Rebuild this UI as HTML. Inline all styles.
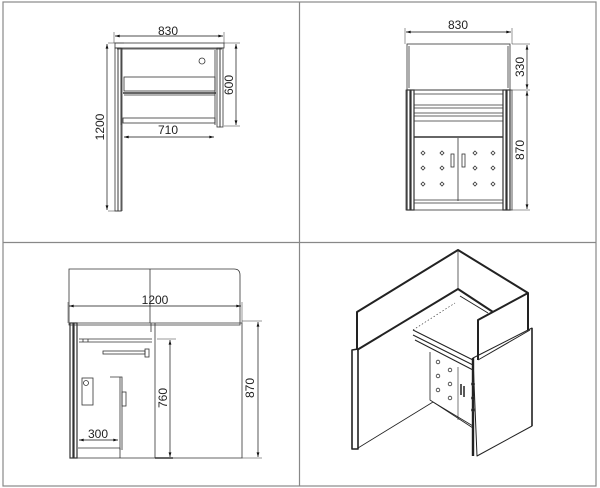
<!DOCTYPE html>
<html><head><style>html,body{margin:0;padding:0;background:#fff}svg{display:block}text{font-family:"Liberation Sans",sans-serif;fill:#222}</style></head>
<body>
<svg width="600" height="488" viewBox="0 0 600 488" xmlns="http://www.w3.org/2000/svg">
<defs>
<marker id="a" viewBox="0 0 10 6" refX="10" refY="3" markerWidth="7" markerHeight="4" orient="auto-start-reverse"><path d="M0,0L10,3L0,6z" fill="#111"/></marker>
</defs>
<g fill="none" stroke="#888" stroke-width="1.2">
<rect x="3" y="2" width="593" height="484"/>
<line x1="299.5" y1="2" x2="299.5" y2="486"/>
<line x1="3" y1="242.5" x2="596" y2="242.5"/>
</g>
<!-- Q1 -->
<g fill="none" stroke="#333" stroke-width="0.8">
<rect x="115" y="43" width="109" height="5"/>
<line x1="117" y1="49" x2="222" y2="49"/>
<rect x="115" y="48" width="3" height="163"/><rect x="118" y="48" width="3" height="163"/>
<line x1="122" y1="48" x2="122" y2="211"/>
<rect x="217" y="48" width="3" height="79"/><rect x="220" y="48" width="3" height="79"/>
<line x1="215" y1="50" x2="215" y2="125"/>
<line x1="121" y1="50" x2="121" y2="125"/>
<rect x="124" y="77" width="91" height="14"/>
<line x1="123" y1="93" x2="216" y2="93" stroke-width="1.6"/>
<line x1="124" y1="95" x2="215" y2="95"/>
<rect x="123" y="118" width="92" height="5"/>
<circle cx="202" cy="61" r="3"/>
<line x1="108" y1="43" x2="124" y2="43" stroke-width="0.5"/>
<line x1="108" y1="211" x2="122" y2="211" stroke-width="0.5"/>
<line x1="224" y1="43" x2="240" y2="43" stroke-width="0.5"/>
<line x1="224" y1="126" x2="240" y2="126" stroke-width="0.5"/>
<line x1="114" y1="32" x2="114" y2="43" stroke-width="0.5"/>
<line x1="224" y1="32" x2="224" y2="43" stroke-width="0.5"/>
</g>
<g stroke="#111" stroke-width="0.7" marker-start="url(#a)" marker-end="url(#a)">
<line x1="115" y1="36" x2="223" y2="36"/>
<line x1="107" y1="44" x2="107" y2="210"/>
<line x1="236" y1="44" x2="236" y2="125"/>
<line x1="124" y1="137" x2="214" y2="137"/>
</g>
<text x="168" y="35" font-size="12" text-anchor="middle">830</text>
<text x="168" y="134" font-size="12" text-anchor="middle">710</text>
<text transform="translate(104,127) rotate(-90)" font-size="12" text-anchor="middle">1200</text>
<text transform="translate(233,85) rotate(-90)" font-size="12" text-anchor="middle">600</text>
<!-- Q2 -->
<g fill="none" stroke="#333" stroke-width="0.8">
<rect x="407" y="44" width="103" height="46"/>
<line x1="409" y1="46" x2="409" y2="88"/><line x1="508" y1="46" x2="508" y2="88"/>
<rect x="406" y="90" width="106" height="120"/>
<rect x="407" y="90" width="3" height="120" stroke-width="1.2"/><rect x="411" y="90" width="3" height="120" stroke-width="1.2"/>
<rect x="503" y="90" width="3" height="120" stroke-width="1.2"/><rect x="507" y="90" width="3" height="120" stroke-width="1.2"/>
<line x1="414" y1="94" x2="503" y2="94"/>
<line x1="414" y1="105" x2="503" y2="105"/><line x1="414" y1="108" x2="503" y2="108"/>
<line x1="414" y1="113" x2="503" y2="113"/><line x1="414" y1="116" x2="503" y2="116"/>
<line x1="414" y1="121" x2="503" y2="121"/>
<line x1="414" y1="137" x2="503" y2="137" stroke-width="1.4"/>
<line x1="458" y1="138" x2="458" y2="201"/>
<line x1="414" y1="200" x2="503" y2="200"/><line x1="414" y1="203" x2="503" y2="203"/>
<rect x="451" y="154" width="3" height="13"/><rect x="462" y="154" width="3" height="13"/>
<line x1="512" y1="44" x2="530" y2="44" stroke-width="0.5"/>
<line x1="512" y1="90" x2="530" y2="90" stroke-width="0.5"/>
<line x1="512" y1="210" x2="530" y2="210" stroke-width="0.5"/>
<line x1="405" y1="28" x2="405" y2="44" stroke-width="0.5"/>
<line x1="512" y1="28" x2="512" y2="44" stroke-width="0.5"/>
</g>
<g fill="none" stroke="#333" stroke-width="0.8">
<g id="dm"><path d="M423,151l2,2l-2,2l-2,-2z"/><path d="M442,151l2,2l-2,2l-2,-2z"/><path d="M475,151l2,2l-2,2l-2,-2z"/><path d="M493,151l2,2l-2,2l-2,-2z"/></g>
<use href="#dm" y="15"/><use href="#dm" y="31"/>
</g>
<g stroke="#111" stroke-width="0.7" marker-start="url(#a)" marker-end="url(#a)">
<line x1="406" y1="32" x2="511" y2="32"/>
<line x1="527" y1="45" x2="527" y2="89"/>
<line x1="527" y1="91" x2="527" y2="209"/>
</g>
<text x="458" y="29" font-size="12" text-anchor="middle">830</text>
<text transform="translate(524,67) rotate(-90)" font-size="12" text-anchor="middle">330</text>
<text transform="translate(524,150) rotate(-90)" font-size="12" text-anchor="middle">870</text>
<!-- Q3 -->
<g fill="none" stroke="#333" stroke-width="0.8">
<path d="M69,269H234Q240,269 240,275V325H69z"/>
<line x1="150" y1="269" x2="150" y2="323"/>
<line x1="151" y1="323" x2="151" y2="332"/>
<path d="M70,323H242V458H70z"/>
<rect x="70" y="323" width="3" height="135" stroke-width="1.2"/>
<rect x="74" y="323" width="3" height="135" stroke-width="1.2"/>
<line x1="155" y1="323" x2="155" y2="458"/>
<line x1="79" y1="339" x2="152" y2="339"/><line x1="79" y1="342" x2="152" y2="342"/>
<line x1="83" y1="339" x2="83" y2="342"/><line x1="88" y1="339" x2="88" y2="342"/>
<rect x="103" y="351" width="42" height="3"/><rect x="145" y="349" width="4" height="8"/>
<rect x="82" y="378" width="11" height="27"/><circle cx="86" cy="383" r="2.5"/>
<path d="M110,377H122V450"/><line x1="120" y1="377" x2="120" y2="450"/>
<rect x="122" y="392" width="4" height="14"/>
<line x1="78" y1="448" x2="120" y2="448"/>
<line x1="120" y1="448" x2="120" y2="458"/>
<line x1="155" y1="458" x2="173" y2="458" stroke-width="1.6"/>
<line x1="157" y1="339" x2="176" y2="339" stroke-width="0.5"/>
<line x1="242" y1="321" x2="262" y2="321" stroke-width="0.5"/>
<line x1="242" y1="458" x2="262" y2="458" stroke-width="0.5"/>
<line x1="68" y1="302" x2="68" y2="323" stroke-width="0.5"/>
<line x1="242" y1="302" x2="242" y2="323" stroke-width="0.5"/>
</g>
<g stroke="#111" stroke-width="0.7" marker-start="url(#a)" marker-end="url(#a)">
<line x1="69" y1="306" x2="241" y2="306"/>
<line x1="170" y1="340" x2="170" y2="457"/>
<line x1="258" y1="322" x2="258" y2="457"/>
<line x1="79" y1="440" x2="118" y2="440"/>
</g>
<text x="155" y="304" font-size="12" text-anchor="middle">1200</text>
<text x="98" y="438" font-size="12" text-anchor="middle">300</text>
<text transform="translate(167,398) rotate(-90)" font-size="12" text-anchor="middle">760</text>
<text transform="translate(254,388) rotate(-90)" font-size="12" text-anchor="middle">870</text>
<!-- Q4 -->
<g fill="none" stroke="#222" stroke-linejoin="round">
<path d="M357,350V312L458,250L528,293V330" stroke-width="2"/>
<path d="M357,350L458,289L493,312" stroke-width="2"/>
<line x1="458" y1="250" x2="458" y2="289" stroke-width="0.7"/>
<path d="M478,360V320L528,293" stroke-width="2"/>
<line x1="478" y1="360" x2="530" y2="330" stroke-width="1"/>
<line x1="460" y1="296" x2="488" y2="313" stroke-width="1"/>
<line x1="413" y1="330" x2="455" y2="303" stroke-width="0.6" stroke-dasharray="1.5,2"/>
<path d="M352,350L358,349V449H352z" stroke-width="1.6"/>
<line x1="358" y1="448" x2="433" y2="402" stroke-width="0.8"/>
<path d="M473,358L532,328V426L477,456z" stroke-width="1"/>
<path d="M473,358V456" stroke-width="2.4"/>
<path d="M532,328V426" stroke-width="1.6"/>
<path d="M413,330L473,360M413,335L473,365M415,340L473,370" stroke-width="1"/>
<path d="M430,352V400L473,428" stroke-width="0.8"/>
<line x1="433" y1="402" x2="473" y2="426" stroke-width="0.8"/>
<line x1="458" y1="367" x2="458" y2="420" stroke-width="0.6"/>
<path d="M461,384V395M464,386V397" stroke-width="1.5"/>
</g>
<g fill="none" stroke="#333" stroke-width="0.8">
<circle cx="438" cy="362" r="1.8"/><circle cx="450" cy="370" r="1.8"/>
<circle cx="438" cy="376" r="1.8"/><circle cx="450" cy="384" r="1.8"/>
<circle cx="438" cy="390" r="1.8"/><circle cx="450" cy="398" r="1.8"/>
<circle cx="473" cy="384" r="1.5"/><circle cx="473" cy="398" r="1.5"/><circle cx="473" cy="410" r="1.5"/>
</g>
</svg>
</body></html>
